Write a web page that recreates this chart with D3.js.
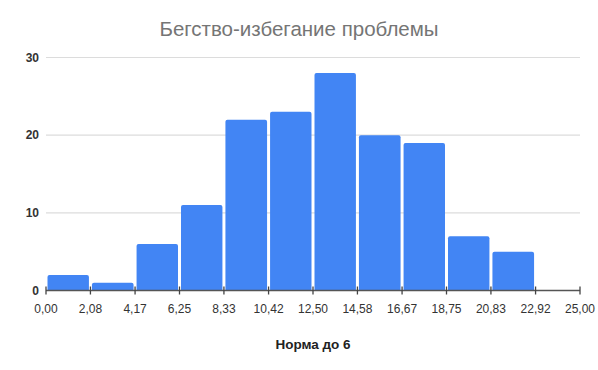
<!DOCTYPE html>
<html lang="ru">
<head>
<meta charset="UTF-8">
<title>Бегство-избегание проблемы</title>
<script src="https://cdn.jsdelivr.net/npm/d3@7/dist/d3.min.js"></script>
<style>
  body { margin: 0; background: #fff; }
  svg { display: block; font-family: Arial, "Liberation Sans", sans-serif; }
</style>
</head>
<body>
<div id="chart"></div>
<script>
// границы интервалов и количества
const binEdges = [0, 2.08, 4.17, 6.25, 8.33, 10.42, 12.5, 14.58, 16.67, 18.75, 20.83, 22.92, 25];
const counts = [2, 1, 6, 11, 22, 23, 28, 20, 19, 7, 5, 0];
const yTicks = [0, 10, 20, 30];
const title = 'Бегство-избегание проблемы';
const xTitle = 'Норма до 6';

const width = 598, height = 370;
const margin = { top: 57.5, right: 18, bottom: 79.5, left: 46 };

const svg = d3.select('#chart').append('svg')
  .attr('width', width)
  .attr('height', height);

const x = d3.scaleLinear()
  .domain([0, 25])
  .range([margin.left, width - margin.right]);

const y = d3.scaleLinear()
  .domain([0, 30])
  .range([height - margin.bottom, margin.top]);

// сетка
svg.append('g')
  .selectAll('line')
  .data(yTicks.filter(d => d > 0))
  .join('line')
  .attr('x1', x(0))
  .attr('x2', x(25))
  .attr('y1', d => y(d))
  .attr('y2', d => y(d))
  .attr('stroke', '#dcdcdc')
  .attr('stroke-width', 1.2);

// подписи оси Y
svg.append('g')
  .selectAll('text')
  .data(yTicks)
  .join('text')
  .attr('x', margin.left - 7)
  .attr('y', d => y(d) + 4)
  .attr('text-anchor', 'end')
  .attr('font-size', 12)
  .attr('font-weight', 'bold')
  .attr('fill', '#333')
  .text(d => d);

// столбцы
const bins = counts.map((c, i) => ({ x0: binEdges[i], x1: binEdges[i + 1], c }));
const r = 2;
svg.append('g')
  .selectAll('path')
  .data(bins.filter(d => d.c > 0))
  .join('path')
  .attr('fill', '#4285f4')
  .attr('d', d => {
    const x0 = x(d.x0) + 1.5, x1 = x(d.x1) - 1.5;
    const y0 = y(0), y1 = y(d.c);
    return `M${x0},${y0}V${y1 + r}Q${x0},${y1} ${x0 + r},${y1}H${x1 - r}Q${x1},${y1} ${x1},${y1 + r}V${y0}Z`;
  });

// ось X
const xAxis = svg.append('g');
xAxis.append('line')
  .attr('x1', x(0))
  .attr('x2', x(25))
  .attr('y1', y(0))
  .attr('y2', y(0))
  .attr('stroke', '#555')
  .attr('stroke-width', 1.3);
xAxis.selectAll('.tick')
  .data(binEdges)
  .join('line')
  .attr('class', 'tick')
  .attr('x1', d => x(d))
  .attr('x2', d => x(d))
  .attr('y1', y(0) - 4)
  .attr('y2', y(0) + 4)
  .attr('stroke', '#444')
  .attr('stroke-width', 1.3);
xAxis.selectAll('text')
  .data(binEdges)
  .join('text')
  .attr('x', d => x(d))
  .attr('y', y(0) + 22)
  .attr('text-anchor', 'middle')
  .attr('font-size', 12)
  .attr('fill', '#333')
  .text(d => d3.format('.2f')(d).replace('.', ','));

// заголовки
svg.append('text')
  .attr('x', width / 2)
  .attr('y', 36)
  .attr('text-anchor', 'middle')
  .attr('font-size', 20.5)
  .attr('fill', '#757575')
  .text(title);

svg.append('text')
  .attr('x', (x(0) + x(25)) / 2)
  .attr('y', 349)
  .attr('text-anchor', 'middle')
  .attr('font-size', 13.5)
  .attr('font-weight', 'bold')
  .attr('fill', '#222')
  .text(xTitle);
</script>
</body>
</html>
